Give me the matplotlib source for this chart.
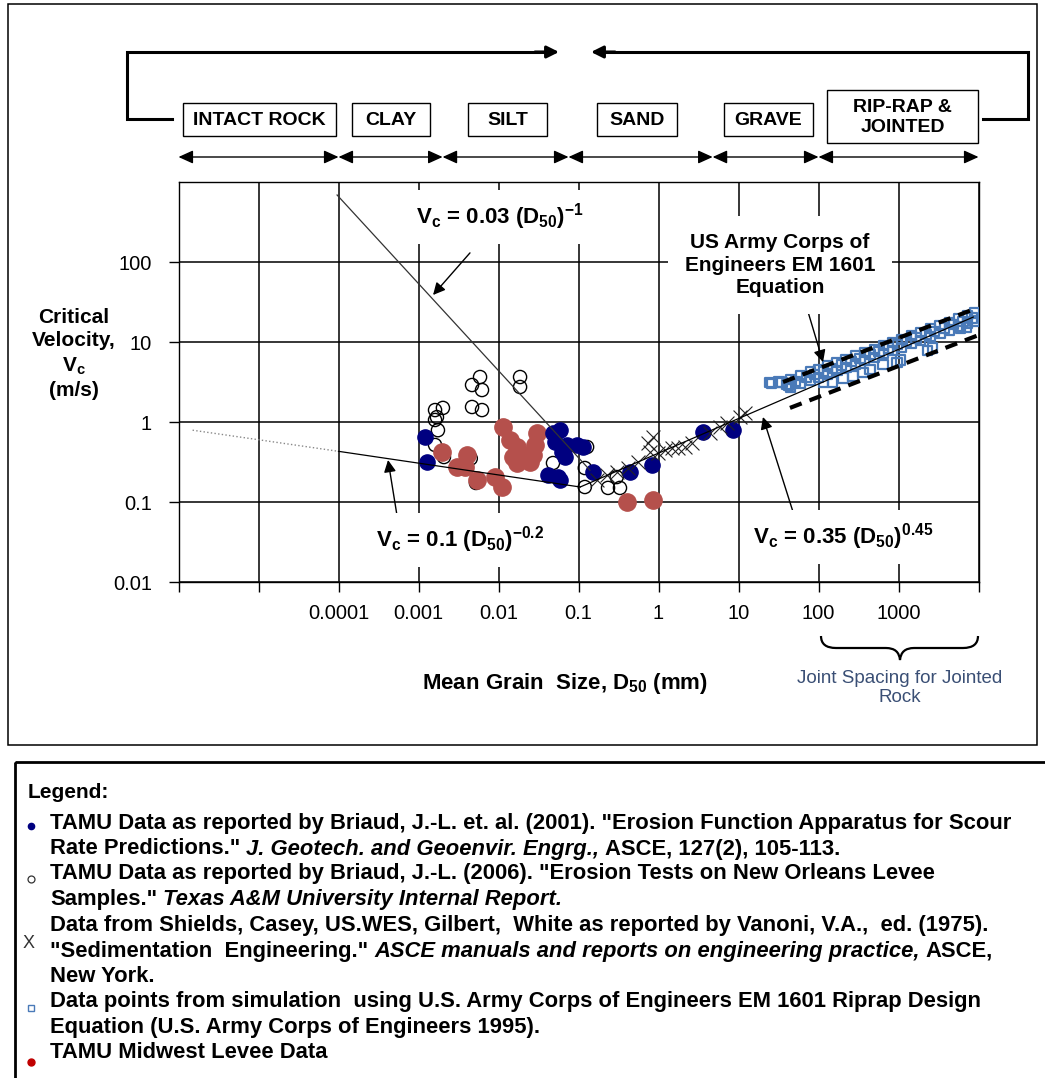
import matplotlib
matplotlib.use('Agg')
import matplotlib.pyplot as plt
from matplotlib.patches import Rectangle, PathPatch
from matplotlib.path import Path

plt.rcParams['font.family'] = ['Liberation Sans', 'DejaVu Sans']
plt.rcParams['mathtext.fontset'] = 'custom'
plt.rcParams['mathtext.rm'] = 'Liberation Sans'
plt.rcParams['mathtext.it'] = 'Liberation Sans:italic'
plt.rcParams['mathtext.bf'] = 'Liberation Sans:bold'
plt.rcParams['mathtext.default'] = 'bf'

W, H = 1045, 1078

# soil classes and grain size limits between them (mm)
classes = ['INTACT ROCK', 'CLAY', 'SILT', 'SAND', 'GRAVE', 'RIP-RAP &\nJOINTED']
class_limits = [1e-6, 1e-4, 0.002, 0.075, 4.75, 100, 1e4]

x_ticks = [1e-6, 1e-5, 1e-4, 1e-3, 1e-2, 1e-1, 1, 10, 100, 1000, 1e4]
x_labels = ['', '', '0.0001', '0.001', '0.01', '0.1', '1', '10', '100', '1000', '']
y_ticks = [0.01, 0.1, 1, 10, 100]
y_labels = ['0.01', '0.1', '1', '10', '100']

# TAMU data, Briaud et al. 2001 (navy dots)
tamu01_d = [0.0012, 0.00128, 0.048, 0.0587, 0.0508, 0.0718, 0.0957, 0.114, 0.0678,
            0.0622, 0.0416, 0.0554, 0.0587, 0.152, 0.44, 0.83, 3.6, 8.5]
tamu01_v = [0.65, 0.316, 0.73, 0.79, 0.56, 0.516, 0.516, 0.487, 0.365,
            0.42, 0.218, 0.205, 0.188, 0.237, 0.237, 0.29, 0.75, 0.79]

# TAMU data, Briaud 2006 (open circles)
tamu06_d = [0.00588, 0.00622, 0.00467, 0.00467, 0.00622, 0.00161, 0.00202, 0.0017,
            0.00161, 0.00175, 0.00161, 0.00208, 0.0045, 0.00523, 0.0186, 0.0186,
            0.048, 0.128, 0.12, 0.12, 0.234, 0.33, 0.30]
tamu06_v = [3.65, 2.51, 2.90, 1.54, 1.41, 1.41, 1.50, 1.15,
            1.06, 0.79, 0.516, 0.365, 0.35, 0.173, 3.65, 2.74,
            0.307, 0.487, 0.266, 0.154, 0.15, 0.15, 0.205]

# TAMU Midwest levee data (red dots)
levee_d = [0.00197, 0.00404, 0.00303, 0.00381, 0.00538, 0.00903, 0.0111, 0.0114, 0.0139,
           0.017, 0.0152, 0.0202, 0.017, 0.0248, 0.0303, 0.0286, 0.027, 0.404, 0.853]
levee_v = [0.42, 0.387, 0.274, 0.274, 0.188, 0.205, 0.154, 0.866, 0.596,
           0.487, 0.365, 0.387, 0.307, 0.316, 0.73, 0.516, 0.387, 0.1, 0.106]

# Shields, Casey, US.WES, Gilbert, White (crosses)
shields_d = [0.17, 0.227, 0.303, 0.416, 0.555, 0.74, 0.78, 0.85, 0.99, 1.2,
             1.47, 1.75, 2.14, 2.62, 4.4, 5.9, 7.2, 10.4, 12]
shields_v = [0.188, 0.218, 0.237, 0.266, 0.316, 0.546, 0.42, 0.65, 0.41, 0.447,
             0.473, 0.473, 0.487, 0.546, 0.73, 0.866, 0.97, 1.15, 1.3]

# EM 1601 simulation points (open squares)
em_d_a = [26, 35, 45, 60, 80, 100, 130, 170, 220, 290, 380, 500, 650, 850, 1100,
          1450, 1900, 2500, 3300, 4300, 5600, 7300, 9000]
em_v_top = [3.0, 3.13, 3.43, 3.80, 4.22, 4.57, 5.02, 5.53, 6.07, 6.70, 7.39, 8.15, 8.97,
            9.87, 10.8, 12.0, 13.2, 14.6, 16.1, 17.7, 19.5, 21.4, 23.1]
em_d_b = [40, 52, 70, 90, 115, 150, 195, 255, 330, 440, 570, 750, 970, 1270, 1650,
          2200, 2850, 3750, 4900, 6400, 8300]
em_v_mid = [2.93, 3.22, 3.58, 3.92, 4.29, 4.71, 5.17, 5.70, 6.27, 6.94, 7.62, 8.41, 9.22,
            10.2, 11.2, 12.4, 13.6, 15.0, 16.5, 18.2, 20.0]
em_d_c = [45, 60, 80, 100, 130, 170, 220, 290, 380, 500, 650, 850, 1100, 1450, 1900,
          2500, 3300, 4300, 5600, 7300, 9000]
em_v_low = [2.72, 3.02, 3.35, 3.63, 3.99, 4.39, 4.82, 5.32, 5.87, 6.47, 7.12, 7.84, 8.58,
            9.53, 10.5, 11.6, 12.8, 14.1, 15.5, 17.0, 18.3]
em_d_s = [24.8, 32, 42, 115, 151, 203, 270, 360, 440, 640, 960, 1050, 2290, 2650, 5900, 7100]
em_v_s = [3.1, 3.16, 2.9, 3.1, 3.16, 3.55, 3.76, 4.2, 4.5, 5.2, 5.6, 5.96, 7.9, 8.4, 15, 15.4]

# trend lines
eq1_d = [9.6e-5, 0.139]
eq1_v = [688, 0.25]
eq2a_d = [1.5e-6, 1e-4]
eq2a_v = [0.79, 0.43]
eq2b_d = [1e-4, 0.105]
eq2b_v = [0.43, 0.154]
eq3_d = [0.105, 8600]
eq3_v = [0.154, 20.5]
em_hi_d = [36, 9600]
em_hi_v = [3.16, 26.6]
em_lo_d = [44, 9600]
em_lo_v = [1.5, 12]

fig = plt.figure(figsize=(W / 100, H / 100), dpi=100)
ax = fig.add_axes([178.5 / W, 1 - 582 / H, 800 / W, 400 / H])
ax.set_xscale('log')
ax.set_yscale('log')
ax.set_xlim(1e-6, 1e4)
ax.set_ylim(0.01, 1000)
ax.minorticks_off()
ax.set_xticks(x_ticks, labels=x_labels)
ax.set_yticks(y_ticks, labels=y_labels)
ax.grid(True, color='black', lw=1.1)
ax.set_axisbelow(True)
ax.tick_params(length=7, width=1, direction='out', labelsize=14.5)
ax.tick_params(axis='x', pad=9)
ax.tick_params(axis='y', pad=12)
for s in ax.spines.values():
    s.set_linewidth(1)

ax.scatter(tamu06_d, tamu06_v, s=90, facecolors='none', edgecolors='black', linewidths=1, zorder=2)
ax.scatter(levee_d, levee_v, s=155, color='#b5504c', zorder=2)
ax.scatter(tamu01_d, tamu01_v, s=120, color='#000080', zorder=2)
ax.scatter(shields_d, shields_v, s=100, marker='x', color='#222222', linewidths=0.8, zorder=3)
for d, v in [(em_d_a, em_v_top), (em_d_b, em_v_mid), (em_d_c, em_v_low), (em_d_s, em_v_s)]:
    ax.scatter(d, v, s=44, marker='s', facecolors='none', edgecolors='#4a7ab8', linewidths=1.6, zorder=3)

ax.plot(eq1_d, eq1_v, color='#333333', lw=0.9, zorder=4)
ax.plot(eq2a_d, eq2a_v, color='#888888', lw=1, ls=':', zorder=4)
ax.plot(eq2b_d, eq2b_v, color='black', lw=0.9, zorder=4)
ax.plot(eq3_d, eq3_v, color='black', lw=0.9, zorder=4)
ax.plot(em_hi_d, em_hi_v, color='black', lw=3, dashes=(3, 2), zorder=4)
ax.plot(em_lo_d, em_lo_v, color='black', lw=3, dashes=(3, 2), zorder=4)

# equation labels
lab = dict(fontsize=16, fontweight='bold', ha='center', va='center', zorder=5,
           bbox=dict(fc='white', ec='none', pad=8))
arr = dict(arrowstyle='-|>', color='black', lw=1, mutation_scale=18, shrinkA=0, shrinkB=0)
ax.text(0.0105, 365, 'V$_c$ = 0.03 (D$_{50}$)$^{-1}$', **lab)
ax.annotate('', xy=(0.00152, 38.7), xytext=(0.0044, 130), arrowprops=arr)
ax.text(0.0033, 0.0335, 'V$_c$ = 0.1 (D$_{50}$)$^{-0.2}$', **lab)
ax.annotate('', xy=(4.16e-4, 0.335), xytext=(5.5e-4, 0.0596), arrowprops=arr)
ax.text(202, 0.0365, 'V$_c$ = 0.35 (D$_{50}$)$^{0.45}$', **lab)
ax.annotate('', xy=(20.2, 1.155), xytext=(50.8, 0.063), arrowprops=arr)
ax.text(33, 91.7, 'US Army Corps of\nEngineers EM 1601\nEquation', fontsize=15,
        fontweight='bold', ha='center', va='center', linespacing=1.25, zorder=5,
        bbox=dict(fc='white', ec='none', pad=12))
ax.annotate('', xy=(114, 5.6), xytext=(68, 31.6), arrowprops=arr)

# soil class arrows above the plot
for i in range(len(classes)):
    ax.annotate('', xy=(class_limits[i + 1], H - 157), xytext=(class_limits[i], H - 157),
                xycoords=('data', 'figure pixels'), textcoords=('data', 'figure pixels'),
                arrowprops=dict(arrowstyle='<|-|>,head_length=0.55,head_width=0.25',
                                color='black', lw=1, mutation_scale=16,
                                shrinkA=0, shrinkB=0), annotation_clip=False)

# overlay in pixel units for boxes, frames and the legend
dk = fig.add_axes([0, 0, 1, 1])
dk.set_xlim(0, W)
dk.set_ylim(H, 0)
dk.axis('off')

dk.add_patch(Rectangle((8, 4), 1029, 741, fill=False, ec='black', lw=1.1))
dk.add_patch(Rectangle((15, 762), 1100, 400, fill=False, ec='black', lw=2))

boxes = [(183, 103, 153, 33), (352, 103, 78, 33), (468, 103, 79, 33),
         (597, 103, 80, 33), (724, 103, 89, 33), (827, 90, 151, 53)]
for name, (bx, by, bw, bh) in zip(classes, boxes):
    dk.add_patch(Rectangle((bx, by), bw, bh, fill=False, ec='black', lw=1))
    dk.text(bx + bw / 2, by + bh / 2 + 1, name, fontsize=14, fontweight='bold',
            ha='center', va='center', linespacing=1.3)

dk.plot([172, 127, 127, 545], [119, 119, 52, 52], color='black', lw=2.2, solid_joinstyle='miter')
dk.annotate('', xy=(559, 52), xytext=(535, 52),
            arrowprops=dict(arrowstyle='-|>', color='black', lw=2.2, mutation_scale=18, shrinkA=0, shrinkB=0))
dk.plot([983, 1028, 1028, 605], [119, 119, 52, 52], color='black', lw=2.2, solid_joinstyle='miter')
dk.annotate('', xy=(591, 52), xytext=(615, 52),
            arrowprops=dict(arrowstyle='-|>', color='black', lw=2.2, mutation_scale=18, shrinkA=0, shrinkB=0))

brace = Path([(821, 636), (821, 648), (836, 648), (886, 648), (899, 648), (900, 660),
              (901, 648), (914, 648), (963, 648), (978, 648), (978, 636)],
             [Path.MOVETO, Path.CURVE3, Path.CURVE3, Path.LINETO, Path.CURVE3, Path.CURVE3,
              Path.CURVE3, Path.CURVE3, Path.LINETO, Path.CURVE3, Path.CURVE3])
dk.add_patch(PathPatch(brace, fill=False, ec='black', lw=1.6))

dk.text(74, 354, 'Critical\nVelocity,\nV$_c$\n(m/s)', fontsize=15, fontweight='bold',
        ha='center', va='center', linespacing=1.3)
dk.text(565, 683, 'Mean Grain  Size, D$_{50}$ (mm)', fontsize=16, fontweight='bold',
        ha='center', va='center')
dk.text(900, 688, 'Joint Spacing for Jointed\nRock', fontsize=13.5, color='#3a4f75',
        ha='center', va='center', linespacing=1.15)

# legend block
dk.text(28, 793, 'Legend:', fontsize=15, fontweight='bold', va='center')
legend_lines = [
    (823, [('TAMU Data as reported by Briaud, J.-L. et. al. (2001). "Erosion Function Apparatus for Scour', 'normal')]),
    (849, [('Rate Predictions."', 'normal'), ('J. Geotech. and Geoenvir. Engrg.,', 'italic'),
           ('ASCE, 127(2), 105-113.', 'normal')]),
    (874, [('TAMU Data as reported by Briaud, J.-L. (2006). "Erosion Tests on New Orleans Levee', 'normal')]),
    (900, [('Samples."', 'normal'), ('Texas A&M University Internal Report.', 'italic')]),
    (926, [('Data from Shields, Casey, US.WES, Gilbert,  White as reported by Vanoni, V.A.,  ed. (1975).', 'normal')]),
    (951, [('"Sedimentation  Engineering."', 'normal'),
           ('ASCE manuals and reports on engineering practice,', 'italic'), ('ASCE,', 'normal')]),
    (977, [('New York.', 'normal')]),
    (1002, [('Data points from simulation  using U.S. Army Corps of Engineers EM 1601 Riprap Design', 'normal')]),
    (1028, [('Equation (U.S. Army Corps of Engineers 1995).', 'normal')]),
    (1053, [('TAMU Midwest Levee Data', 'normal')]),
]
renderer = fig.canvas.get_renderer()
for y, parts in legend_lines:
    x = 50
    for txt, style in parts:
        t = dk.text(x, y, txt, fontsize=15.8, fontweight='bold', fontstyle=style, va='center')
        x += t.get_window_extent(renderer).width + 6

dk.plot([31], [826], 'o', color='#000080', ms=4.5)
dk.plot([31], [879], 'o', mfc='none', mec='#333333', ms=5, mew=0.9)
dk.text(29, 944, 'X', fontsize=13, color='#333333', ha='center', va='center')
dk.plot([31], [1008], 's', mfc='none', mec='#4a7ab8', ms=5, mew=1)
dk.plot([31], [1062], 'o', color='#c00000', ms=5)

fig.savefig('out.png', dpi=100)
